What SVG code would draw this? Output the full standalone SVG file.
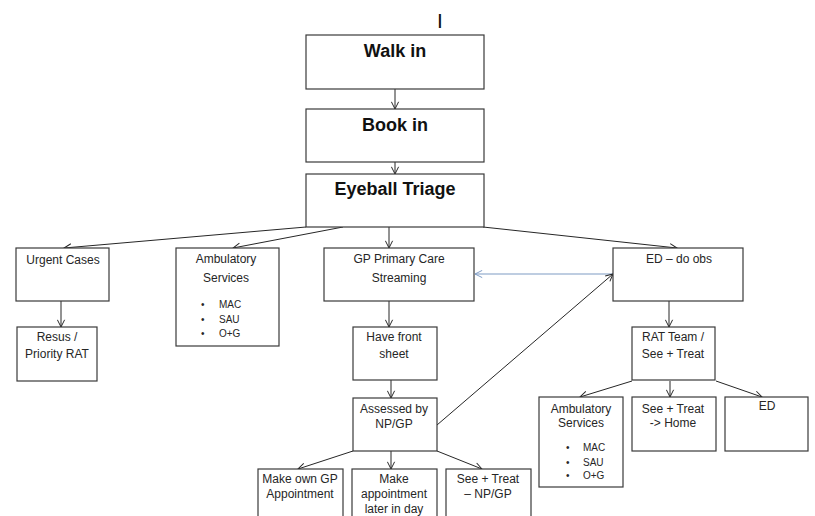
<svg xmlns="http://www.w3.org/2000/svg" width="815" height="516" viewBox="0 0 815 516">
<style>
.box{fill:#fff;stroke:#3a3a3a;stroke-width:1.2}
.t{font-family:"Liberation Sans",Arial,sans-serif;font-size:12px;fill:#262626;text-anchor:middle}
.b{font-family:"Liberation Sans",Arial,sans-serif;font-size:18px;font-weight:bold;fill:#111;text-anchor:middle}
.s{font-family:"Liberation Sans",Arial,sans-serif;font-size:10px;fill:#262626}
.c{stroke:#262626;stroke-width:1;fill:none;marker-end:url(#a)}
.blue{stroke:#7f9cc4;stroke-width:1.2;fill:none;marker-end:url(#ab)}
</style>
<defs>
<marker id="a" viewBox="0 0 10 10" refX="9" refY="5" markerWidth="9" markerHeight="9" markerUnits="userSpaceOnUse" orient="auto">
<path d="M1,1 L9,5 L1,9" fill="none" stroke="#262626" stroke-width="1.1"/>
</marker>
<marker id="ab" viewBox="0 0 10 10" refX="9" refY="5" markerWidth="9" markerHeight="9" markerUnits="userSpaceOnUse" orient="auto">
<path d="M1,1 L9,5 L1,9" fill="none" stroke="#7f9cc4" stroke-width="1.1"/>
</marker>
</defs>
<rect width="815" height="516" fill="#fff"/>
<text x="440" y="28" style="font-family:'Liberation Sans',Arial,sans-serif;font-size:21px;fill:#111" text-anchor="middle">I</text>

<g id="connectors">
<line class="c" x1="395" y1="89" x2="395" y2="109"/>
<line class="c" x1="395" y1="162" x2="395" y2="174"/>
<line class="c" x1="306" y1="227" x2="64" y2="248"/>
<line class="c" x1="343" y1="227" x2="233" y2="248"/>
<line class="c" x1="389" y1="227" x2="389" y2="248"/>
<line class="c" x1="483" y1="227" x2="677" y2="248"/>
<line class="c" x1="61" y1="301" x2="61" y2="327"/>
<line class="c" x1="389" y1="301" x2="389" y2="327"/>
<line class="c" x1="669" y1="301" x2="669" y2="327"/>
<line class="blue" x1="613" y1="274" x2="475" y2="274"/>
<line class="c" x1="391" y1="380" x2="391" y2="398"/>
<line class="c" x1="437" y1="425" x2="613" y2="274"/>
<line class="c" x1="353" y1="451" x2="298" y2="469"/>
<line class="c" x1="391" y1="451" x2="391" y2="469"/>
<line class="c" x1="437" y1="451" x2="482" y2="469"/>
<line class="c" x1="632" y1="381" x2="580" y2="397"/>
<line class="c" x1="670" y1="381" x2="670" y2="397"/>
<line class="c" x1="716" y1="381" x2="762" y2="397"/>
</g>

<g id="walk-in"><rect class="box" x="306" y="35" width="178" height="54"/><text class="b" x="395" y="57">Walk in</text></g>
<g id="book-in"><rect class="box" x="306" y="109" width="178" height="53"/><text class="b" x="395" y="131">Book in</text></g>
<g id="eyeball-triage"><rect class="box" x="306" y="174" width="178" height="53"/><text class="b" x="395" y="195">Eyeball Triage</text></g>

<g id="urgent-cases"><rect class="box" x="16" y="248" width="93" height="53"/><text class="t" x="63" y="264">Urgent Cases</text></g>
<g id="resus"><rect class="box" x="17" y="327" width="80" height="54"/><text class="t" x="57" y="341">Resus /</text><text class="t" x="57" y="358">Priority RAT</text></g>

<g id="ambulatory-1"><rect class="box" x="176" y="248" width="103" height="98"/>
<text class="t" x="226" y="263">Ambulatory</text><text class="t" x="226" y="282">Services</text>
<text class="s" x="201" y="308">•</text><text class="s" x="219" y="308">MAC</text>
<text class="s" x="201" y="323">•</text><text class="s" x="219" y="323">SAU</text>
<text class="s" x="201" y="337">•</text><text class="s" x="219" y="337">O+G</text></g>

<g id="gp-primary"><rect class="box" x="324" y="248" width="150" height="53"/><text class="t" x="399" y="263">GP Primary Care</text><text class="t" x="399" y="282">Streaming</text></g>

<g id="ed-obs"><rect class="box" x="613" y="248" width="130" height="53"/><text class="t" x="679" y="263">ED – do obs</text></g>

<g id="front-sheet"><rect class="box" x="353" y="327" width="84" height="53"/><text class="t" x="394" y="341">Have front</text><text class="t" x="394" y="358">sheet</text></g>

<g id="rat-team"><rect class="box" x="632" y="327" width="83" height="53"/><text class="t" x="673" y="341">RAT Team /</text><text class="t" x="673" y="358">See + Treat</text></g>

<g id="assessed"><rect class="box" x="353" y="398" width="84" height="53"/><text class="t" x="394" y="413">Assessed by</text><text class="t" x="394" y="428">NP/GP</text></g>

<g id="own-gp"><rect class="box" x="258" y="469" width="85" height="60"/><text class="t" x="300" y="483">Make own GP</text><text class="t" x="300" y="498">Appointment</text></g>
<g id="later"><rect class="box" x="352" y="469" width="85" height="60"/><text class="t" x="394" y="483">Make</text><text class="t" x="394" y="498">appointment</text><text class="t" x="394" y="513">later in day</text></g>
<g id="see-treat-np"><rect class="box" x="446" y="469" width="85" height="60"/><text class="t" x="488" y="483">See + Treat</text><text class="t" x="488" y="498">– NP/GP</text></g>

<g id="ambulatory-2"><rect class="box" x="539" y="397" width="84" height="90"/>
<text class="t" x="581" y="413">Ambulatory</text><text class="t" x="581" y="427">Services</text>
<text class="s" x="566" y="451">•</text><text class="s" x="583" y="451">MAC</text>
<text class="s" x="566" y="466">•</text><text class="s" x="583" y="466">SAU</text>
<text class="s" x="566" y="479">•</text><text class="s" x="583" y="479">O+G</text></g>

<g id="see-treat-home"><rect class="box" x="632" y="397" width="84" height="54"/><text class="t" x="673" y="413">See + Treat</text><text class="t" x="673" y="427">-&gt; Home</text></g>
<g id="ed"><rect class="box" x="725" y="397" width="83" height="54"/><text class="t" x="767" y="410">ED</text></g>
</svg>
